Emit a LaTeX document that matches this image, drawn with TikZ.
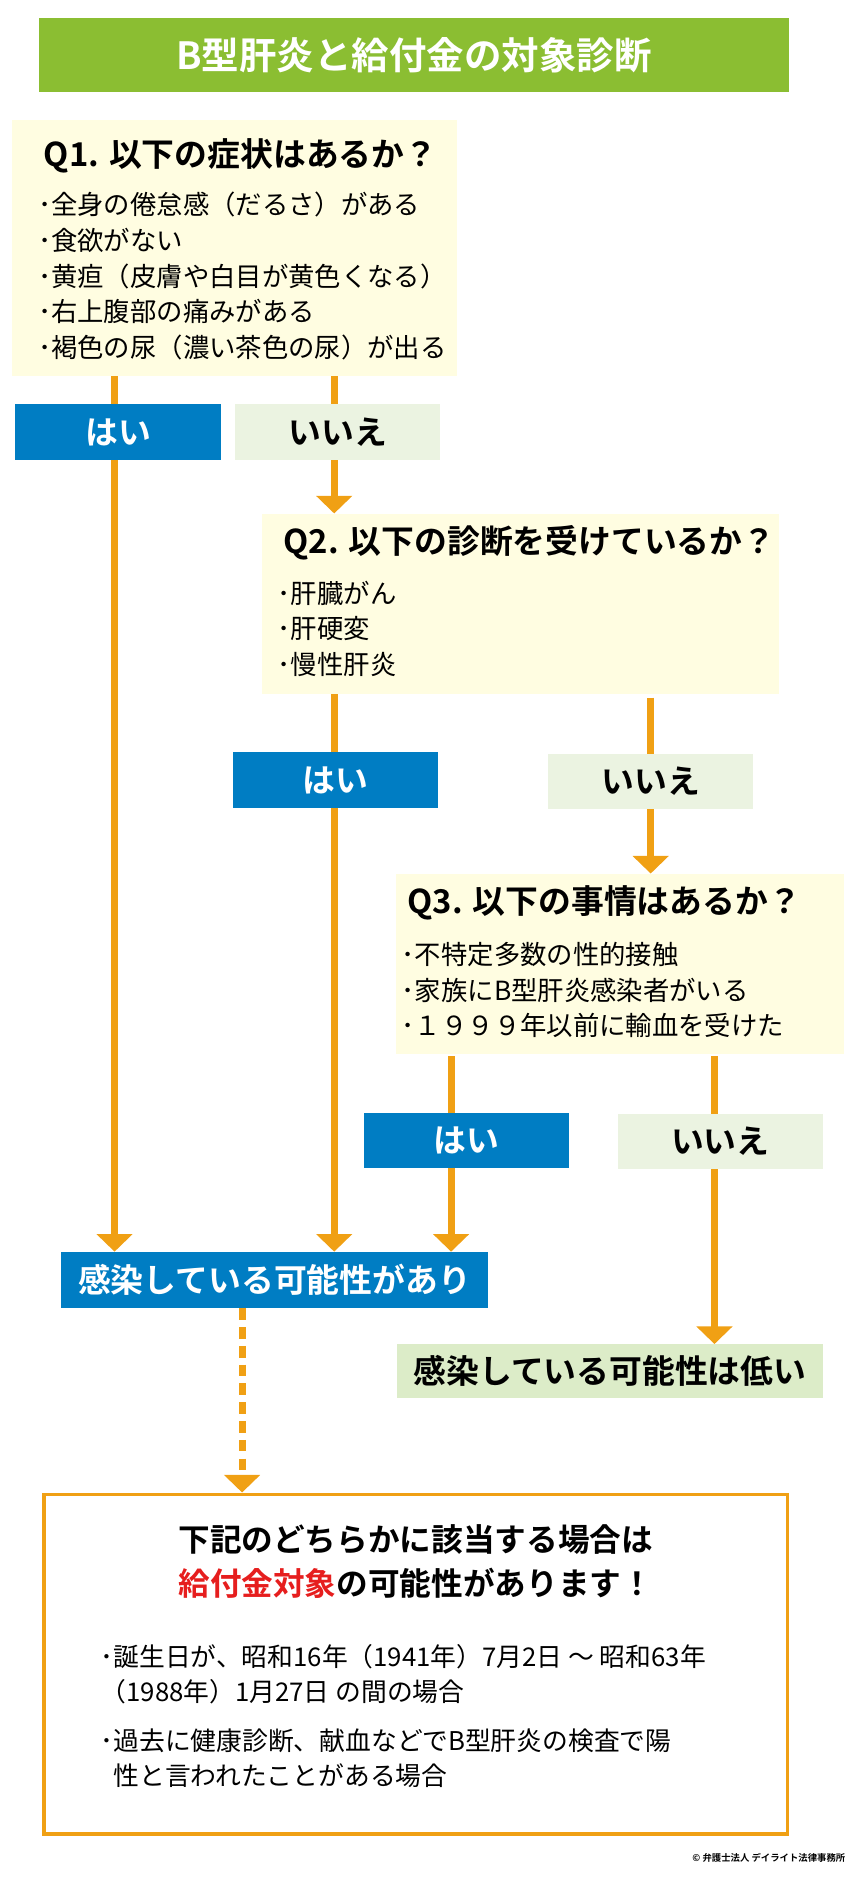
\documentclass[tikz,border=0pt]{standalone}
\usepackage{fontspec}
\setmainfont{Noto Sans CJK JP}
\newfontfamily\jpbold{Noto Sans CJK JP Bold}
\usetikzlibrary{arrows.meta, positioning, calc, backgrounds}
\definecolor{titlegreen}{RGB}{139, 190, 50}
\definecolor{qyellow}{RGB}{255, 253, 225}
\definecolor{yesblue}{RGB}{0, 125, 195}
\definecolor{nogreen}{RGB}{235, 243, 225}
\definecolor{lowgreen}{RGB}{220, 236, 200}
\definecolor{floworange}{RGB}{240, 160, 20}
\definecolor{hitred}{RGB}{230, 30, 30}
\tikzset{
    qbox/.style={rectangle, fill=qyellow, inner sep=0pt},
    qhead/.style={anchor=west, inner sep=0pt, font=\jpbold\fontsize{28}{30}\selectfont},
    qitem/.style={anchor=west, inner sep=0pt, align=left, font=\fontsize{22.5}{30.5}\selectfont},
    yesbox/.style={rectangle, fill=yesblue, text=white, inner sep=0pt,
        minimum width=6.16cm, minimum height=1.66cm, font=\jpbold\fontsize{28}{30}\selectfont},
    nobox/.style={yesbox, fill=nogreen, text=black},
    flow/.style={-{Triangle[width=30pt, length=15pt]}, line width=6pt, color=floworange},
    dashflow/.style={flow, dash pattern=on 10pt off 6pt},
}
\begin{document}
\begin{tikzpicture}[x=0.03541cm, y=-0.036cm]
    \useasboundingbox (0,0) rectangle (720,1583);

    % title
    \node[fill=titlegreen, text=white, minimum width=22.49cm, minimum height=2.23cm,
        font=\jpbold\fontsize{32}{34}\selectfont] (title) at (350.5,46) {B型肝炎と給付金の対象診断};

    % Q1
    \node[qbox, minimum width=13.35cm, minimum height=7.67cm] (q1) at (198.5,206.5) {};
    \node[qhead] (q1h) at (37,130) {Q1. 以下の症状はあるか？};
    \node[qitem] (q1i) at (32,230) {･全身の倦怠感（だるさ）がある\\･食欲がない\\･黄疸（皮膚や白目が黄色くなる）\\･右上腹部の痛みがある\\･褐色の尿（濃い茶色の尿）が出る};
    \node[yesbox] (yes1) at (100,360) {はい};
    \node[nobox] (no1) at (286,360) {いいえ};

    % Q2
    \node[qbox, minimum width=15.51cm, minimum height=5.4cm] (q2) at (441,503) {};
    \node[qhead] (q2h) at (240,452) {Q2. 以下の診断を受けているか？};
    \node[qitem] (q2i) at (235,524) {･肝臓がん\\･肝硬変\\･慢性肝炎};
    \node[yesbox] (yes2) at (284,650) {はい};
    \node[nobox] (no2) at (551,651) {いいえ};

    % Q3
    \node[qbox, minimum width=13.46cm, minimum height=5.4cm] (q3) at (525,803) {};
    \node[qhead] (q3h) at (345,752) {Q3. 以下の事情はあるか？};
    \node[qitem] (q3i) at (340,825) {･不特定多数の性的接触\\･家族にB型肝炎感染者がいる\\･１９９９年以前に輸血を受けた};
    \node[yesbox] (yes3) at (395,950) {はい};
    \node[nobox] (no3) at (610,951) {いいえ};

    % results
    \node[yesbox, minimum width=12.78cm, minimum height=1.69cm] (res1) at (232.5,1066.5) {感染している可能性があり};
    \node[nobox, fill=lowgreen, minimum width=12.78cm, minimum height=1.62cm] (res2) at (516.5,1142.5) {感染している可能性は低い};

    % final box
    \node[draw=floworange, line width=3pt, fill=white, minimum width=22.3cm, minimum height=10.19cm] (final) at (352,1386.5) {};
    \node[font=\jpbold\fontsize{27}{37}\selectfont, align=center] (finalh) at (352,1301)
        {下記のどちらかに該当する場合は\\{\color{hitred}給付金対象}の可能性があります！};
    \node[anchor=west, inner sep=0pt, align=left, font=\fontsize{22}{30}\selectfont] (fin1) at (85,1395)
        {･誕生日が、昭和16年（1941年）7月2日 ～ 昭和63年\\（1988年）1月27日 の間の場合};
    \node[anchor=west, inner sep=0pt, align=left, font=\fontsize{22}{30}\selectfont] (fin2) at (85,1465)
        {･過去に健康診断、献血などでB型肝炎の検査で陽\\\hphantom{･}性と言われたことがある場合};
    \node[anchor=east, inner sep=0pt, font=\jpbold\fontsize{8}{9}\selectfont] (copy) at (716,1548)
        {© 弁護士法人 デイライト法律事務所};

    % connectors
    \coordinate (y3x) at (382,0);
    \coordinate (n3x) at (605,0);
    \begin{scope}[on background layer]
        \draw[flow] (q1.south -| 97,0) -- (res1.north -| 97,0);
        \draw[flow] (q1.south -| 283,0) -- (q2.north -| 283,0);
        \draw[flow] (q2.south -| 283,0) -- (res1.north -| 283,0);
        \draw[flow] ($(q2.south -| no2)+(0,3)$) -- (q3.north -| no2);
        \draw[flow] ($(q3.south -| y3x)+(0,2)$) -- (res1.north -| y3x);
        \draw[flow] ($(q3.south -| n3x)+(0,2)$) -- (res2.north -| n3x);
        \draw[dashflow] (res1.south -| 205,0) -- (final.north -| 205,0);
    \end{scope}
\end{tikzpicture}
\end{document}
